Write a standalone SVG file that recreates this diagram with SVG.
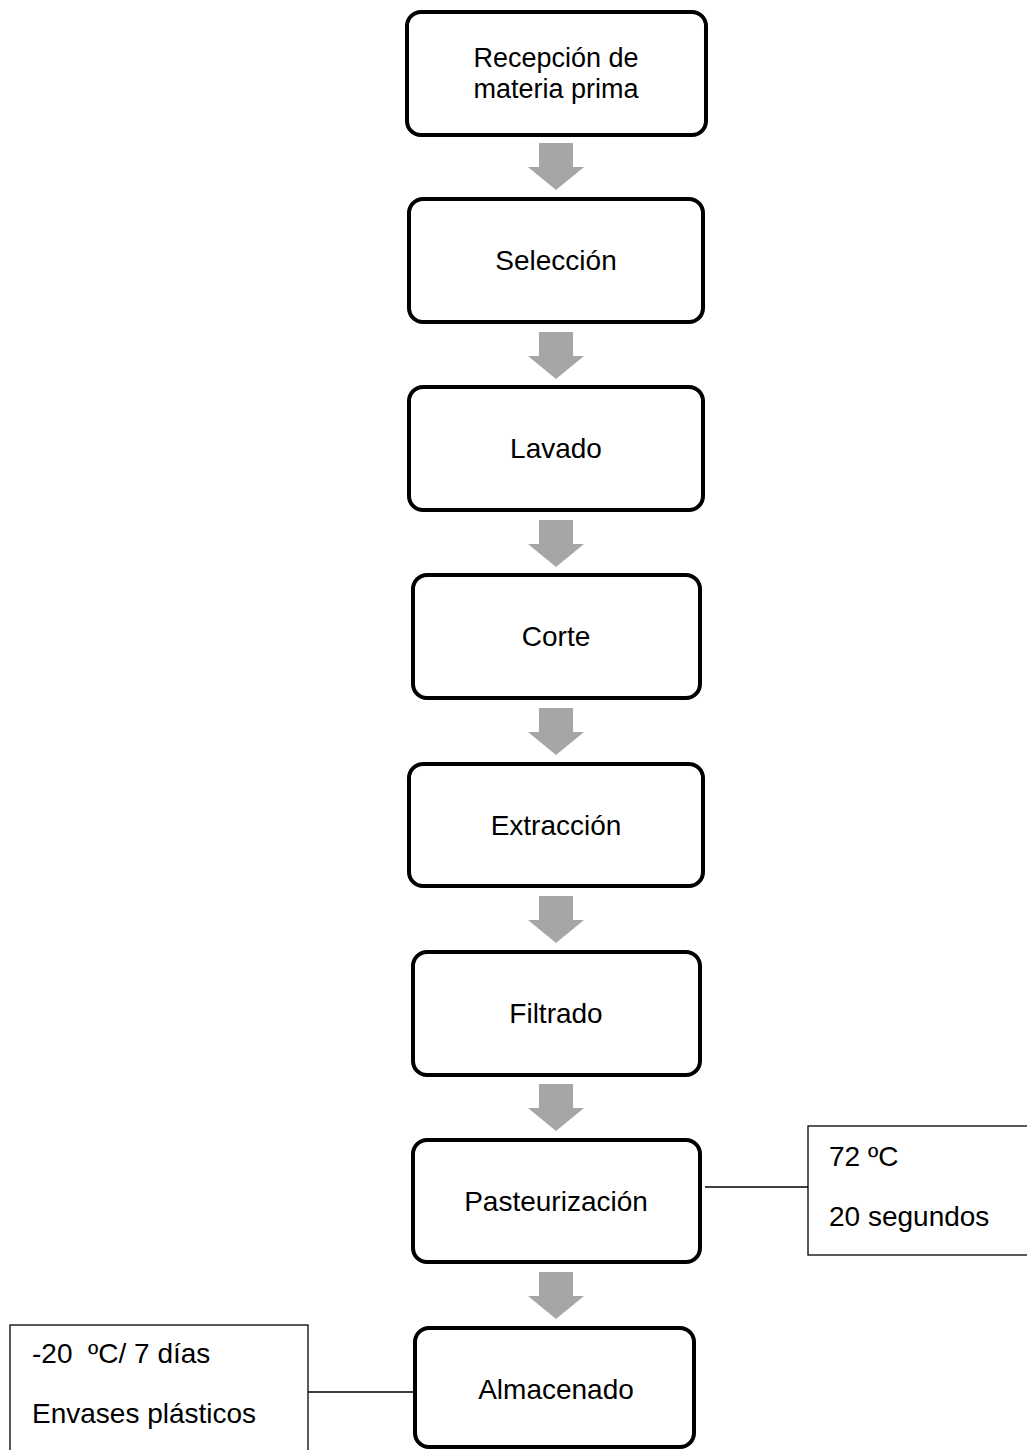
<svg xmlns="http://www.w3.org/2000/svg" width="1027" height="1450" viewBox="0 0 1027 1450">
<style>
  .node { fill: #ffffff; stroke: #000000; stroke-width: 4; }
  .side { fill: #ffffff; stroke: #000000; stroke-width: 1.3; }
  .lbl { font-family: "Liberation Sans", Arial, sans-serif; font-size: 28px; fill: #000000; }
  .tight { font-size: 27px; }
  .mid { text-anchor: middle; }
  .arrow { fill: #a6a6a6; stroke: none; }
  .link { stroke: #000000; stroke-width: 1.3; fill: none; }
</style>
<defs>
  <path id="dn" class="arrow" d="M -17 0 L 17 0 L 17 24 L 28 24 L 0 47 L -28 24 L -17 24 Z"/>
</defs>
<rect width="1027" height="1450" fill="#ffffff"/>

<g id="connectors">
  <use href="#dn" x="556" y="143"/>
  <use href="#dn" x="556" y="332"/>
  <use href="#dn" x="556" y="520"/>
  <use href="#dn" x="556" y="708"/>
  <use href="#dn" x="556" y="896"/>
  <use href="#dn" x="556" y="1084"/>
  <use href="#dn" x="556" y="1272"/>
  <line class="link" x1="705" y1="1187" x2="808" y2="1187"/>
  <line class="link" x1="308" y1="1392" x2="413" y2="1392"/>
</g>

<g id="n1">
  <rect class="node" x="407" y="12" width="299" height="123" rx="14"/>
  <text class="lbl tight mid" x="556" y="67">Recepción de</text>
  <text class="lbl tight mid" x="556" y="98">materia prima</text>
</g>
<g id="n2">
  <rect class="node" x="409" y="199" width="294" height="123" rx="14"/>
  <text class="lbl mid" x="556" y="270">Selección</text>
</g>
<g id="n3">
  <rect class="node" x="409" y="387" width="294" height="123" rx="14"/>
  <text class="lbl mid" x="556" y="458">Lavado</text>
</g>
<g id="n4">
  <rect class="node" x="413" y="575" width="287" height="123" rx="14"/>
  <text class="lbl mid" x="556" y="646">Corte</text>
</g>
<g id="n5">
  <rect class="node" x="409" y="764" width="294" height="122" rx="14"/>
  <text class="lbl mid" x="556" y="835">Extracción</text>
</g>
<g id="n6">
  <rect class="node" x="413" y="952" width="287" height="123" rx="14"/>
  <text class="lbl mid" x="556" y="1023">Filtrado</text>
</g>
<g id="n7">
  <rect class="node" x="413" y="1140" width="287" height="122" rx="14"/>
  <text class="lbl mid" x="556" y="1211">Pasteurización</text>
</g>
<g id="n8">
  <rect class="node" x="415" y="1328" width="279" height="119" rx="14"/>
  <text class="lbl mid" x="556" y="1399">Almacenado</text>
</g>

<g id="note-pasteurizacion">
  <rect class="side" x="808" y="1126" width="240" height="129"/>
  <text class="lbl" x="829" y="1166">72 ºC</text>
  <text class="lbl" x="829" y="1226">20 segundos</text>
</g>
<g id="note-almacenado">
  <rect class="side" x="10" y="1325" width="298" height="140"/>
  <text class="lbl" x="32" y="1363" xml:space="preserve">-20  ºC/ 7 días</text>
  <text class="lbl" x="32" y="1423">Envases plásticos</text>
</g>
</svg>
